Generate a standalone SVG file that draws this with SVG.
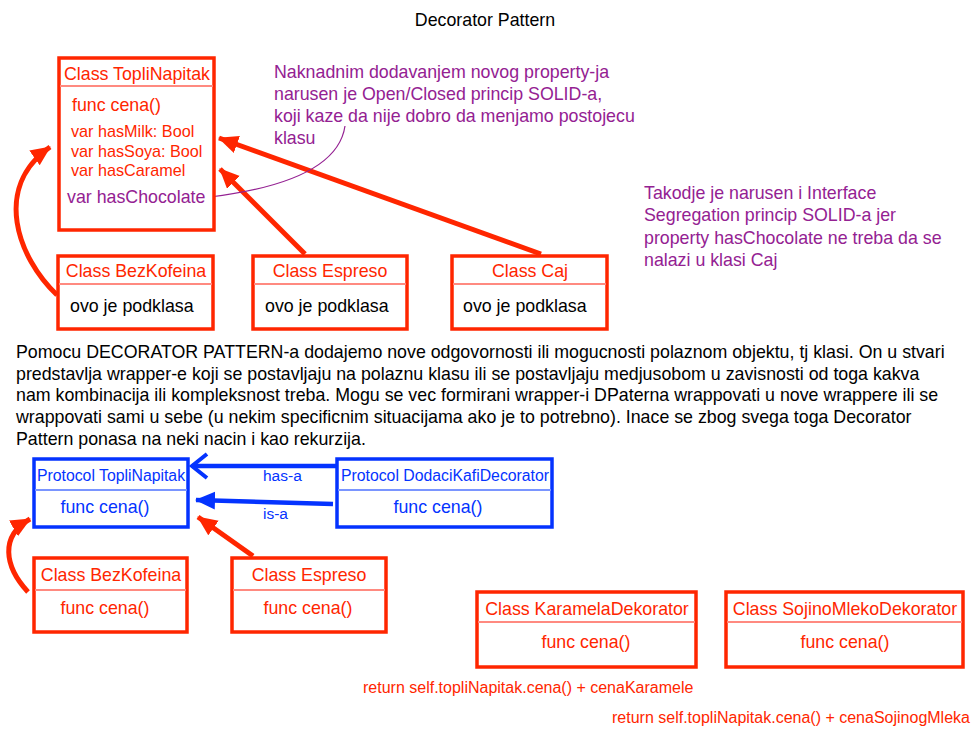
<svg xmlns="http://www.w3.org/2000/svg" width="976" height="740" viewBox="0 0 976 740">
<defs>
<style>
text{font-family:"Liberation Sans",Arial,Helvetica,sans-serif;}
.box{fill:#fff;stroke:#FF2600;stroke-width:3.5;}
.bbox{fill:#fff;stroke:#0433FF;stroke-width:3.5;}
.div{stroke:#FF8A80;stroke-width:2;}
.bdiv{stroke:#7A95FF;stroke-width:2;}
.r{fill:#FF2600;font-size:17.8px;}
.v{fill:#FF2600;font-size:16.2px;}
.b{fill:#0433FF;}
.p{fill:#942192;font-size:17.8px;}
.k{fill:#000;font-size:17.8px;}
.mid{text-anchor:middle;}
.ra{fill:none;stroke:#FF2600;stroke-width:5;}
.ba{fill:none;stroke:#0433FF;stroke-width:4.5;}
</style>
<marker id="rh" markerUnits="userSpaceOnUse" markerWidth="22" markerHeight="20" refX="19" refY="9" orient="auto" viewBox="0 0 22 20">
<path d="M0,0 L20,9 L0,18 z" fill="#FF2600"/>
</marker>
<marker id="bh" markerUnits="userSpaceOnUse" markerWidth="22" markerHeight="20" refX="19" refY="9" orient="auto" viewBox="0 0 22 20">
<path d="M0,0 L20,9 L0,18 z" fill="#0433FF"/>
</marker>
<marker id="bo" markerUnits="userSpaceOnUse" markerWidth="24" markerHeight="30" refX="18" refY="14" orient="auto" viewBox="0 0 24 30">
<path d="M3,2 L18,14 L3,26" fill="none" stroke="#0433FF" stroke-width="4"/>
</marker>
</defs>
<rect width="976" height="740" fill="#fff"/>
<text x="485" y="26" class="k mid">Decorator Pattern</text>

<g id="connectors">
<path class="ra" d="M57,295 C18,258 -8,188 50,147" marker-end="url(#rh)"/>
<path class="ra" d="M305,254 L220,169" marker-end="url(#rh)"/>
<path class="ra" d="M541,254 L219,138" marker-end="url(#rh)"/>
<path d="M210,197 C300,186 340,160 345,126" fill="none" stroke="#942192" stroke-width="1.2"/>
<path class="ba" d="M337,466 L192,466" marker-end="url(#bo)"/>
<path class="ba" d="M333,504 L196,500" marker-end="url(#bh)"/>
<text x="263" y="481" class="b" font-size="15.5">has-a</text>
<text x="263" y="519" class="b" font-size="15.5">is-a</text>
<path class="ra" d="M253,556 L198,517" marker-end="url(#rh)"/>
<path class="ra" d="M28,592 C4,566 0,536 30,519" marker-end="url(#rh)"/>
</g>

<g id="topliNapitak">
<rect class="box" x="59" y="58" width="155" height="172"/>
<line class="div" x1="60" y1="86" x2="213" y2="86"/>
<text x="137" y="80" class="r mid">Class TopliNapitak</text>
<text x="72" y="111" class="r">func cena()</text>
<text x="71" y="137" class="v">var hasMilk: Bool</text>
<text x="71" y="157" class="v">var hasSoya: Bool</text>
<text x="71" y="176" class="v">var hasCaramel</text>
<text x="67" y="203" class="p">var hasChocolate</text>
</g>

<g id="note1">
<text x="274" y="78" class="p">Naknadnim dodavanjem novog property-ja</text>
<text x="274" y="100" class="p">narusen je Open/Closed princip SOLID-a,</text>
<text x="274" y="122" class="p">koji kaze da nije dobro da menjamo postojecu</text>
<text x="274" y="144" class="p">klasu</text>
</g>

<g id="note2">
<text x="644" y="199" class="p">Takodje je narusen i Interface</text>
<text x="644" y="221" class="p">Segregation princip SOLID-a jer</text>
<text x="644" y="244" class="p">property hasChocolate ne treba da se</text>
<text x="644" y="266" class="p">nalazi u klasi Caj</text>
</g>

<g id="bezKofeina1">
<rect class="box" x="58" y="256" width="155" height="73"/>
<line class="div" x1="59" y1="284" x2="212" y2="284"/>
<text x="136" y="277" class="r mid">Class BezKofeina</text>
<text x="70" y="312" class="k">ovo je podklasa</text>
</g>
<g id="espreso1">
<rect class="box" x="253" y="256" width="154" height="73"/>
<line class="div" x1="254" y1="284" x2="406" y2="284"/>
<text x="330" y="277" class="r mid">Class Espreso</text>
<text x="265" y="312" class="k">ovo je podklasa</text>
</g>
<g id="caj1">
<rect class="box" x="452" y="256" width="155" height="73"/>
<line class="div" x1="453" y1="284" x2="606" y2="284"/>
<text x="530" y="277" class="r mid">Class Caj</text>
<text x="463" y="312" class="k">ovo je podklasa</text>
</g>

<g id="paragraph">
<text x="16" y="358" class="k">Pomocu DECORATOR PATTERN-a dodajemo nove odgovornosti ili mogucnosti polaznom objektu, tj klasi. On u stvari</text>
<text x="16" y="380" class="k">predstavlja wrapper-e koji se postavljaju na polaznu klasu ili se postavljaju medjusobom u zavisnosti od toga kakva</text>
<text x="16" y="401" class="k">nam kombinacija ili kompleksnost treba. Mogu se vec formirani wrapper-i DPaterna wrappovati u nove wrappere ili se</text>
<text x="16" y="423" class="k">wrappovati sami u sebe (u nekim specificnim situacijama ako je to potrebno). Inace se zbog svega toga Decorator</text>
<text x="16" y="445" class="k">Pattern ponasa na neki nacin i kao rekurzija.</text>
</g>

<g id="protocolTopliNapitak">
<rect class="bbox" x="34" y="459" width="154" height="68"/>
<line class="bdiv" x1="35" y1="490" x2="187" y2="490"/>
<text x="111" y="481" class="b mid" font-size="15.8">Protocol TopliNapitak</text>
<text x="105" y="513" class="b mid" font-size="17.8">func cena()</text>
</g>
<g id="protocolDodaci">
<rect class="bbox" x="337" y="459" width="215" height="68"/>
<line class="bdiv" x1="338" y1="490" x2="551" y2="490"/>
<text x="445" y="481" class="b mid" font-size="15.8">Protocol DodaciKafiDecorator</text>
<text x="438" y="513" class="b mid" font-size="17.8">func cena()</text>
</g>

<g id="bezKofeina2">
<rect class="box" x="34" y="558" width="153" height="74"/>
<line class="div" x1="35" y1="590" x2="186" y2="590"/>
<text x="111" y="581" class="r mid">Class BezKofeina</text>
<text x="105" y="614" class="r mid">func cena()</text>
</g>
<g id="espreso2">
<rect class="box" x="232" y="558" width="154" height="74"/>
<line class="div" x1="233" y1="590" x2="385" y2="590"/>
<text x="309" y="581" class="r mid">Class Espreso</text>
<text x="308" y="614" class="r mid">func cena()</text>
</g>

<g id="karamelaDekorator">
<rect class="box" x="477" y="592" width="219" height="75"/>
<line class="div" x1="478" y1="622" x2="695" y2="622"/>
<text x="587" y="615" class="r mid">Class KaramelaDekorator</text>
<text x="586" y="648" class="r mid">func cena()</text>
</g>
<g id="sojinoMlekoDekorator">
<rect class="box" x="726" y="592" width="237" height="75"/>
<line class="div" x1="727" y1="622" x2="962" y2="622"/>
<text x="845" y="615" class="r mid">Class SojinoMlekoDekorator</text>
<text x="845" y="648" class="r mid">func cena()</text>
</g>

<text x="363" y="693" fill="#FF2600" font-size="16">return self.topliNapitak.cena() + cenaKaramele</text>
<text x="612" y="723" fill="#FF2600" font-size="16">return self.topliNapitak.cena() + cenaSojinogMleka</text>
</svg>
